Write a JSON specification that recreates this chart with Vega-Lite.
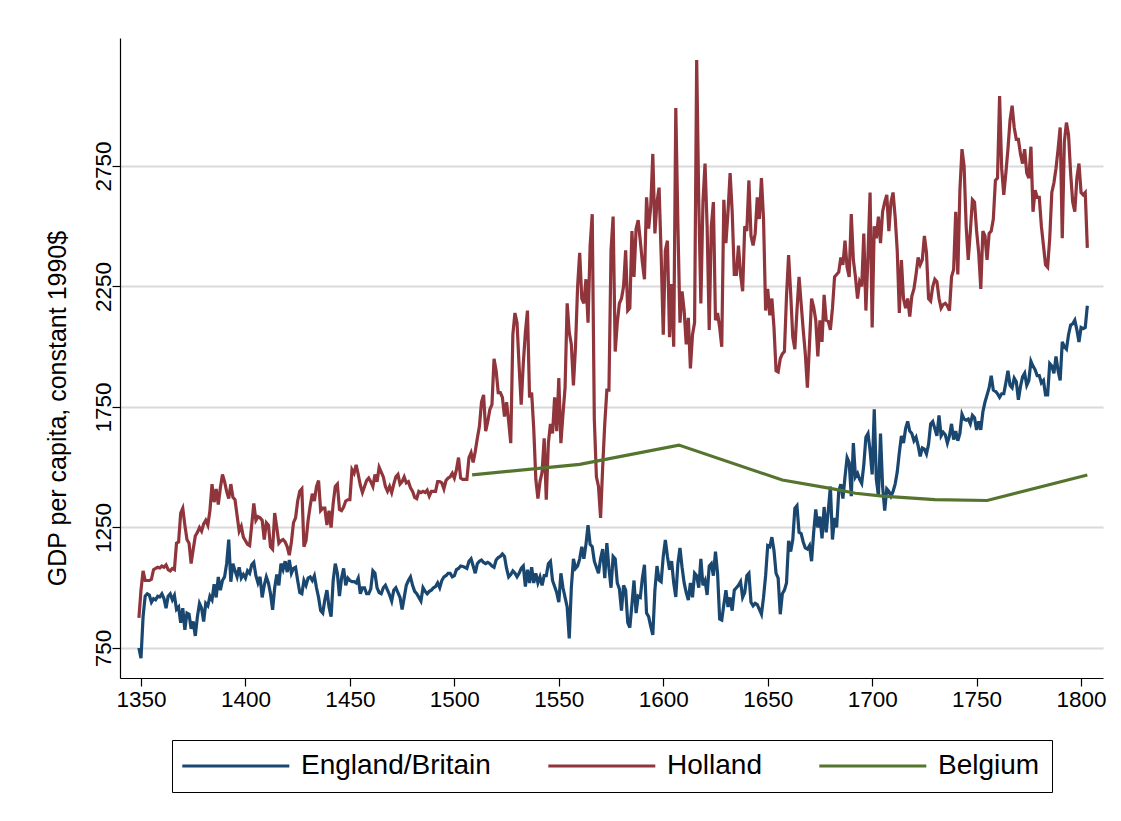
{
"$schema":"https://vega.github.io/schema/vega-lite/v6.json",
"width":983,"height":640,
"autosize":{"type":"none"},
"padding":{"left":120,"top":38,"right":18,"bottom":143},
"background":"white",
"config":{"view":{"stroke":null},"font":"Liberation Sans"},
"data":{"values":[
{"t":1349,"E":750,"H":875},{"t":1350,"E":708,"H":990},{"t":1351,"E":880,"H":1070},{"t":1352,"E":965,"H":1030},{"t":1353,"E":975,"H":1030},{"t":1354,"E":970,"H":1030},{"t":1355,"E":940,"H":1035},{"t":1356,"E":955,"H":1075},{"t":1357,"E":950,"H":1080},{"t":1358,"E":965,"H":1085},{"t":1359,"E":962,"H":1082},{"t":1360,"E":975,"H":1090},{"t":1361,"E":955,"H":1085},{"t":1362,"E":915,"H":1095},{"t":1363,"E":965,"H":1075},{"t":1364,"E":975,"H":1070},{"t":1365,"E":950,"H":1080},{"t":1366,"E":968,"H":1075},{"t":1367,"E":910,"H":1185},{"t":1368,"E":920,"H":1190},{"t":1369,"E":855,"H":1310},{"t":1370,"E":915,"H":1330},{"t":1371,"E":825,"H":1260},{"t":1372,"E":895,"H":1200},{"t":1373,"E":890,"H":1185},{"t":1374,"E":830,"H":1100},{"t":1375,"E":860,"H":1160},{"t":1376,"E":800,"H":1215},{"t":1377,"E":880,"H":1230},{"t":1378,"E":935,"H":1250},{"t":1379,"E":915,"H":1235},{"t":1380,"E":860,"H":1265},{"t":1381,"E":935,"H":1280},{"t":1382,"E":925,"H":1260},{"t":1383,"E":965,"H":1320},{"t":1384,"E":950,"H":1430},{"t":1385,"E":1015,"H":1355},{"t":1386,"E":960,"H":1410},{"t":1387,"E":1045,"H":1345},{"t":1388,"E":990,"H":1415},{"t":1389,"E":1030,"H":1470},{"t":1390,"E":1045,"H":1440},{"t":1391,"E":1100,"H":1400},{"t":1392,"E":1200,"H":1370},{"t":1393,"E":1025,"H":1430},{"t":1394,"E":1100,"H":1375},{"t":1395,"E":1070,"H":1365},{"t":1396,"E":1045,"H":1300},{"t":1397,"E":1085,"H":1235},{"t":1398,"E":1040,"H":1255},{"t":1399,"E":1055,"H":1210},
{"t":1400,"E":1040,"H":1195},{"t":1401,"E":1070,"H":1180},{"t":1402,"E":1060,"H":1175},{"t":1403,"E":1095,"H":1260},{"t":1404,"E":1105,"H":1350},{"t":1405,"E":1050,"H":1280},{"t":1406,"E":1020,"H":1295},{"t":1407,"E":1045,"H":1290},{"t":1408,"E":960,"H":1280},{"t":1409,"E":1010,"H":1200},{"t":1410,"E":1045,"H":1270},{"t":1411,"E":1020,"H":1260},{"t":1412,"E":975,"H":1170},{"t":1413,"E":908,"H":1160},{"t":1414,"E":1000,"H":1310},{"t":1415,"E":1055,"H":1250},{"t":1416,"E":1010,"H":1185},{"t":1417,"E":1100,"H":1195},{"t":1418,"E":1075,"H":1200},{"t":1419,"E":1110,"H":1190},{"t":1420,"E":1065,"H":1170},{"t":1421,"E":1115,"H":1135},{"t":1422,"E":1060,"H":1190},{"t":1423,"E":1080,"H":1270},{"t":1424,"E":1085,"H":1290},{"t":1425,"E":1030,"H":1360},{"t":1426,"E":980,"H":1400},{"t":1427,"E":975,"H":1410},{"t":1428,"E":1030,"H":1170},{"t":1429,"E":1010,"H":1195},{"t":1430,"E":1040,"H":1280},{"t":1431,"E":1045,"H":1340},{"t":1432,"E":1030,"H":1390},{"t":1433,"E":1050,"H":1360},{"t":1434,"E":1000,"H":1420},{"t":1435,"E":960,"H":1445},{"t":1436,"E":905,"H":1320},{"t":1437,"E":895,"H":1330},{"t":1438,"E":950,"H":1330},{"t":1439,"E":990,"H":1260},{"t":1440,"E":920,"H":1320},{"t":1441,"E":880,"H":1250},{"t":1442,"E":1030,"H":1350},{"t":1443,"E":1100,"H":1420},{"t":1444,"E":1060,"H":1430},{"t":1445,"E":965,"H":1325},{"t":1446,"E":1040,"H":1320},{"t":1447,"E":1080,"H":1335},{"t":1448,"E":1010,"H":1360},{"t":1449,"E":1040,"H":1365},
{"t":1450,"E":1030,"H":1365},{"t":1451,"E":1025,"H":1490},{"t":1452,"E":1025,"H":1475},{"t":1453,"E":1020,"H":1510},{"t":1454,"E":1040,"H":1470},{"t":1455,"E":975,"H":1425},{"t":1456,"E":1000,"H":1395},{"t":1457,"E":1000,"H":1420},{"t":1458,"E":975,"H":1445},{"t":1459,"E":975,"H":1455},{"t":1460,"E":995,"H":1440},{"t":1461,"E":1070,"H":1420},{"t":1462,"E":1060,"H":1470},{"t":1463,"E":1000,"H":1440},{"t":1464,"E":980,"H":1500},{"t":1465,"E":975,"H":1480},{"t":1466,"E":1000,"H":1460},{"t":1467,"E":1010,"H":1420},{"t":1468,"E":990,"H":1400},{"t":1469,"E":970,"H":1420},{"t":1470,"E":945,"H":1395},{"t":1471,"E":990,"H":1430},{"t":1472,"E":1000,"H":1460},{"t":1473,"E":980,"H":1470},{"t":1474,"E":960,"H":1430},{"t":1475,"E":910,"H":1440},{"t":1476,"E":960,"H":1460},{"t":1477,"E":1010,"H":1435},{"t":1478,"E":1030,"H":1440},{"t":1479,"E":1045,"H":1415},{"t":1480,"E":1010,"H":1400},{"t":1481,"E":985,"H":1375},{"t":1482,"E":975,"H":1370},{"t":1483,"E":960,"H":1400},{"t":1484,"E":945,"H":1395},{"t":1485,"E":1000,"H":1400},{"t":1486,"E":985,"H":1395},{"t":1487,"E":975,"H":1405},{"t":1488,"E":985,"H":1380},{"t":1489,"E":990,"H":1400},{"t":1490,"E":1000,"H":1400},{"t":1491,"E":1005,"H":1400},{"t":1492,"E":1020,"H":1440},{"t":1493,"E":1000,"H":1440},{"t":1494,"E":1030,"H":1435},{"t":1495,"E":1045,"H":1410},{"t":1496,"E":1050,"H":1445},{"t":1497,"E":1060,"H":1455},{"t":1498,"E":1060,"H":1460},{"t":1499,"E":1045,"H":1475},
{"t":1500,"E":1050,"H":1455},{"t":1501,"E":1075,"H":1490},{"t":1502,"E":1080,"H":1540},{"t":1503,"E":1090,"H":1455},{"t":1504,"E":1088,"H":1450},{"t":1505,"E":1085,"H":1450},{"t":1506,"E":1080,"H":1450},{"t":1507,"E":1110,"H":1540},{"t":1508,"E":1120,"H":1560},{"t":1509,"E":1090,"H":1520},{"t":1510,"E":1060,"H":1565},{"t":1511,"E":1100,"H":1620},{"t":1512,"E":1110,"H":1670},{"t":1513,"E":1115,"H":1770},{"t":1514,"E":1105,"H":1800},{"t":1515,"E":1100,"H":1650},{"t":1516,"E":1105,"H":1690},{"t":1517,"E":1100,"H":1740},{"t":1518,"E":1090,"H":1760},{"t":1519,"E":1085,"H":1950},{"t":1520,"E":1115,"H":1900},{"t":1521,"E":1125,"H":1810},{"t":1522,"E":1130,"H":1810},{"t":1523,"E":1140,"H":1790},{"t":1524,"E":1130,"H":1710},{"t":1525,"E":1080,"H":1770},{"t":1526,"E":1045,"H":1690},{"t":1527,"E":1055,"H":1600},{"t":1528,"E":1070,"H":2050},{"t":1529,"E":1060,"H":2140},{"t":1530,"E":1045,"H":2100},{"t":1531,"E":1060,"H":1920},{"t":1532,"E":1080,"H":1760},{"t":1533,"E":1090,"H":1930},{"t":1534,"E":1005,"H":2060},{"t":1535,"E":1075,"H":2150},{"t":1536,"E":1020,"H":1790},{"t":1537,"E":1085,"H":1810},{"t":1538,"E":1020,"H":1660},{"t":1539,"E":1060,"H":1450},{"t":1540,"E":1020,"H":1370},{"t":1541,"E":1045,"H":1440},{"t":1542,"E":1010,"H":1480},{"t":1543,"E":1050,"H":1620},{"t":1544,"E":1050,"H":1365},{"t":1545,"E":1100,"H":1600},{"t":1546,"E":1110,"H":1680},{"t":1547,"E":1030,"H":1640},{"t":1548,"E":1005,"H":1790},{"t":1549,"E":980,"H":1650},
{"t":1550,"E":940,"H":1870},{"t":1551,"E":1060,"H":1600},{"t":1552,"E":1000,"H":1720},{"t":1553,"E":960,"H":1830},{"t":1554,"E":920,"H":2180},{"t":1555,"E":790,"H":2060},{"t":1556,"E":1000,"H":2010},{"t":1557,"E":1120,"H":1840},{"t":1558,"E":1080,"H":2000},{"t":1559,"E":1090,"H":2250},{"t":1560,"E":1120,"H":2390},{"t":1561,"E":1170,"H":2200},{"t":1562,"E":1120,"H":2180},{"t":1563,"E":1180,"H":2280},{"t":1564,"E":1260,"H":2100},{"t":1565,"E":1180,"H":2420},{"t":1566,"E":1170,"H":2550},{"t":1567,"E":1110,"H":1700},{"t":1568,"E":1085,"H":1460},{"t":1569,"E":1060,"H":1420},{"t":1570,"E":1120,"H":1290},{"t":1571,"E":1160,"H":1500},{"t":1572,"E":1040,"H":1680},{"t":1573,"E":1185,"H":1820},{"t":1574,"E":1080,"H":1820},{"t":1575,"E":1000,"H":2400},{"t":1576,"E":1130,"H":2540},{"t":1577,"E":1120,"H":1980},{"t":1578,"E":1020,"H":2100},{"t":1579,"E":995,"H":2180},{"t":1580,"E":905,"H":2200},{"t":1581,"E":1010,"H":2250},{"t":1582,"E":990,"H":2400},{"t":1583,"E":855,"H":2150},{"t":1584,"E":835,"H":2160},{"t":1585,"E":930,"H":2480},{"t":1586,"E":1030,"H":2290},{"t":1587,"E":895,"H":2490},{"t":1588,"E":965,"H":2525},{"t":1589,"E":960,"H":2440},{"t":1590,"E":1040,"H":2350},{"t":1591,"E":1095,"H":2280},{"t":1592,"E":895,"H":2620},{"t":1593,"E":880,"H":2490},{"t":1594,"E":840,"H":2580},{"t":1595,"E":804,"H":2800},{"t":1596,"E":990,"H":2470},{"t":1597,"E":1090,"H":2600},{"t":1598,"E":1032,"H":2660},{"t":1599,"E":1025,"H":2380},
{"t":1600,"E":1130,"H":2050},{"t":1601,"E":1198,"H":2400},{"t":1602,"E":1130,"H":2440},{"t":1603,"E":1075,"H":2040},{"t":1604,"E":1110,"H":2260},{"t":1605,"E":1020,"H":2000},{"t":1606,"E":962,"H":2990},{"t":1607,"E":1100,"H":2510},{"t":1608,"E":1165,"H":2100},{"t":1609,"E":1085,"H":2230},{"t":1610,"E":1020,"H":2150},{"t":1611,"E":980,"H":2010},{"t":1612,"E":949,"H":2120},{"t":1613,"E":1020,"H":1910},{"t":1614,"E":960,"H":2050},{"t":1615,"E":1060,"H":2100},{"t":1616,"E":1050,"H":3190},{"t":1617,"E":1000,"H":2600},{"t":1618,"E":1120,"H":2180},{"t":1619,"E":1010,"H":2600},{"t":1620,"E":1030,"H":2760},{"t":1621,"E":970,"H":2500},{"t":1622,"E":1090,"H":2070},{"t":1623,"E":1100,"H":2500},{"t":1624,"E":1050,"H":2600},{"t":1625,"E":1150,"H":2110},{"t":1626,"E":1060,"H":2140},{"t":1627,"E":870,"H":2080},{"t":1628,"E":866,"H":2000},{"t":1629,"E":930,"H":2610},{"t":1630,"E":990,"H":2430},{"t":1631,"E":920,"H":2560},{"t":1632,"E":960,"H":2720},{"t":1633,"E":905,"H":2560},{"t":1634,"E":990,"H":2300},{"t":1635,"E":1000,"H":2300},{"t":1636,"E":1010,"H":2420},{"t":1637,"E":1025,"H":2300},{"t":1638,"E":960,"H":2230},{"t":1639,"E":980,"H":2500},{"t":1640,"E":1050,"H":2480},{"t":1641,"E":1060,"H":2690},{"t":1642,"E":940,"H":2460},{"t":1643,"E":925,"H":2420},{"t":1644,"E":935,"H":2470},{"t":1645,"E":930,"H":2620},{"t":1646,"E":910,"H":2530},{"t":1647,"E":890,"H":2700},{"t":1648,"E":960,"H":2530},{"t":1649,"E":1050,"H":2150},
{"t":1650,"E":1175,"H":2240},{"t":1651,"E":1170,"H":2130},{"t":1652,"E":1210,"H":2200},{"t":1653,"E":1155,"H":2080},{"t":1654,"E":1060,"H":1900},{"t":1655,"E":1040,"H":1895},{"t":1656,"E":890,"H":1950},{"t":1657,"E":975,"H":1970},{"t":1658,"E":990,"H":1980},{"t":1659,"E":1020,"H":2210},{"t":1660,"E":1195,"H":2380},{"t":1661,"E":1150,"H":2220},{"t":1662,"E":1200,"H":2040},{"t":1663,"E":1329,"H":1990},{"t":1664,"E":1340,"H":2150},{"t":1665,"E":1230,"H":2290},{"t":1666,"E":1225,"H":2180},{"t":1667,"E":1190,"H":2070},{"t":1668,"E":1165,"H":1970},{"t":1669,"E":1160,"H":1830},{"t":1670,"E":1175,"H":2010},{"t":1671,"E":1110,"H":2200},{"t":1672,"E":1230,"H":2165},{"t":1673,"E":1325,"H":2110},{"t":1674,"E":1250,"H":1960},{"t":1675,"E":1295,"H":2110},{"t":1676,"E":1205,"H":2020},{"t":1677,"E":1335,"H":2215},{"t":1678,"E":1230,"H":2110},{"t":1679,"E":1320,"H":2105},{"t":1680,"E":1420,"H":2070},{"t":1681,"E":1200,"H":2160},{"t":1682,"E":1290,"H":2290},{"t":1683,"E":1250,"H":2300},{"t":1684,"E":1400,"H":2310},{"t":1685,"E":1430,"H":2370},{"t":1686,"E":1370,"H":2340},{"t":1687,"E":1460,"H":2440},{"t":1688,"E":1540,"H":2330},{"t":1689,"E":1520,"H":2290},{"t":1690,"E":1380,"H":2550},{"t":1691,"E":1600,"H":2360},{"t":1692,"E":1460,"H":2290},{"t":1693,"E":1475,"H":2200},{"t":1694,"E":1450,"H":2270},{"t":1695,"E":1433,"H":2250},{"t":1696,"E":1510,"H":2470},{"t":1697,"E":1625,"H":2150},{"t":1698,"E":1640,"H":2380},{"t":1699,"E":1570,"H":2640},
{"t":1700,"E":1470,"H":2080},{"t":1701,"E":1740,"H":2500},{"t":1702,"E":1450,"H":2450},{"t":1703,"E":1380,"H":2540},{"t":1704,"E":1640,"H":2430},{"t":1705,"E":1420,"H":2560},{"t":1706,"E":1320,"H":2600},{"t":1707,"E":1410,"H":2630},{"t":1708,"E":1400,"H":2480},{"t":1709,"E":1380,"H":2600},{"t":1710,"E":1400,"H":2640},{"t":1711,"E":1430,"H":2540},{"t":1712,"E":1480,"H":2400},{"t":1713,"E":1560,"H":2140},{"t":1714,"E":1630,"H":2360},{"t":1715,"E":1600,"H":2200},{"t":1716,"E":1660,"H":2160},{"t":1717,"E":1690,"H":2200},{"t":1718,"E":1650,"H":2125},{"t":1719,"E":1640,"H":2210},{"t":1720,"E":1610,"H":2240},{"t":1721,"E":1625,"H":2300},{"t":1722,"E":1590,"H":2370},{"t":1723,"E":1545,"H":2340},{"t":1724,"E":1580,"H":2360},{"t":1725,"E":1575,"H":2460},{"t":1726,"E":1555,"H":2390},{"t":1727,"E":1595,"H":2200},{"t":1728,"E":1680,"H":2190},{"t":1729,"E":1690,"H":2250},{"t":1730,"E":1660,"H":2280},{"t":1731,"E":1630,"H":2270},{"t":1732,"E":1715,"H":2200},{"t":1733,"E":1630,"H":2160},{"t":1734,"E":1645,"H":2175},{"t":1735,"E":1635,"H":2180},{"t":1736,"E":1600,"H":2170},{"t":1737,"E":1630,"H":2150},{"t":1738,"E":1680,"H":2290},{"t":1739,"E":1615,"H":2320},{"t":1740,"E":1650,"H":2560},{"t":1741,"E":1610,"H":2300},{"t":1742,"E":1640,"H":2650},{"t":1743,"E":1720,"H":2820},{"t":1744,"E":1700,"H":2750},{"t":1745,"E":1695,"H":2500},{"t":1746,"E":1700,"H":2360},{"t":1747,"E":1680,"H":2480},{"t":1748,"E":1715,"H":2610},{"t":1749,"E":1705,"H":2600},
{"t":1750,"E":1655,"H":2480},{"t":1751,"E":1690,"H":2390},{"t":1752,"E":1655,"H":2240},{"t":1753,"E":1730,"H":2480},{"t":1754,"E":1770,"H":2460},{"t":1755,"E":1800,"H":2360},{"t":1756,"E":1830,"H":2470},{"t":1757,"E":1880,"H":2480},{"t":1758,"E":1820,"H":2530},{"t":1759,"E":1815,"H":2690},{"t":1760,"E":1805,"H":2700},{"t":1761,"E":1790,"H":3040},{"t":1762,"E":1805,"H":2740},{"t":1763,"E":1805,"H":2630},{"t":1764,"E":1850,"H":2720},{"t":1765,"E":1900,"H":2820},{"t":1766,"E":1840,"H":2940},{"t":1767,"E":1830,"H":3000},{"t":1768,"E":1870,"H":2910},{"t":1769,"E":1855,"H":2860},{"t":1770,"E":1780,"H":2860},{"t":1771,"E":1835,"H":2800},{"t":1772,"E":1875,"H":2760},{"t":1773,"E":1890,"H":2820},{"t":1774,"E":1840,"H":2720},{"t":1775,"E":1860,"H":2700},{"t":1776,"E":1940,"H":2830},{"t":1777,"E":1920,"H":2560},{"t":1778,"E":1905,"H":2650},{"t":1779,"E":1880,"H":2620},{"t":1780,"E":1880,"H":2620},{"t":1781,"E":1850,"H":2500},{"t":1782,"E":1860,"H":2420},{"t":1783,"E":1800,"H":2340},{"t":1784,"E":1800,"H":2330},{"t":1785,"E":1930,"H":2450},{"t":1786,"E":1920,"H":2640},{"t":1787,"E":1890,"H":2680},{"t":1788,"E":1960,"H":2740},{"t":1789,"E":1900,"H":2820},{"t":1790,"E":1860,"H":2910},{"t":1791,"E":2020,"H":2450},{"t":1792,"E":2000,"H":2850},{"t":1793,"E":1990,"H":2930},{"t":1794,"E":2050,"H":2880},{"t":1795,"E":2090,"H":2720},{"t":1796,"E":2095,"H":2600},{"t":1797,"E":2110,"H":2560},{"t":1798,"E":2070,"H":2700},{"t":1799,"E":2020,"H":2760},
{"t":1800,"E":2080,"H":2640},{"t":1801,"E":2075,"H":2630},{"t":1802,"E":2080,"H":2640},{"t":1803,"E":2170,"H":2410},
{"t":1508.5,"B":1468},{"t":1560,"B":1512},{"t":1607.5,"B":1592},{"t":1657,"B":1447},{"t":1680,"B":1412},{"t":1692,"B":1392},{"t":1705,"B":1380},{"t":1730,"B":1366},{"t":1755,"B":1362},{"t":1803,"B":1468}
]},
"transform":[{"fold":["E","H","B"],"as":["k","v"]},{"filter":"isValid(datum.v)"}],
"mark":{"type":"line","strokeWidth":3.2},
"encoding":{
"x":{"field":"t","type":"quantitative",
"scale":{"domain":[1339.95,1810.5],"nice":false,"zero":false},
"axis":{"values":[1350,1400,1450,1500,1550,1600,1650,1700,1750,1800],"format":"d","title":null,"grid":false,"domainColor":"black","domainWidth":1.2,"tickColor":"black","tickSize":8,"tickWidth":1.2,"labelFontSize":22.5,"labelColor":"black","labelPadding":2,"labelFlush":false,"labelOverlap":false}},
"y":{"field":"v","type":"quantitative",
"scale":{"domain":[625.5,3281],"nice":false,"zero":false},
"axis":{"values":[750,1250,1750,2250,2750],"format":"d","title":"GDP per capita, constant 1990$","grid":true,"gridColor":"#dadada","gridWidth":2,"domainColor":"black","domainWidth":1.2,"tickColor":"black","tickSize":8,"tickWidth":1.2,"labelAngle":-90,"labelAlign":"center","labelBaseline":"alphabetic","labelFontSize":22.5,"labelColor":"black","labelPadding":2,"labelFlush":false,"labelOverlap":false,"titleFontSize":25,"titleFontWeight":"normal","titleColor":"black","titleAngle":-90,"titleAlign":"center","titleBaseline":"bottom","titleX":-50,"titleY":370}},
"color":{"field":"k","type":"nominal","scale":{"domain":["E","H","B"],"range":["#1a476f","#90353b","#55752f"]},
"legend":{"orient":"none","legendX":52,"legendY":702,"direction":"horizontal","title":null,"symbolType":"M-1,0H9","symbolSize":458,"symbolStrokeWidth":3,"symbolOffset":-5,"labelFontSize":28,"labelColor":"black","labelOffset":94,"labelLimit":400,"columnPadding":51,"strokeColor":"black","fillColor":"white","padding":12,
"labelExpr":"datum.value == 'E' ? 'England/Britain' : datum.value == 'H' ? 'Holland' : 'Belgium'"}}
}
}
